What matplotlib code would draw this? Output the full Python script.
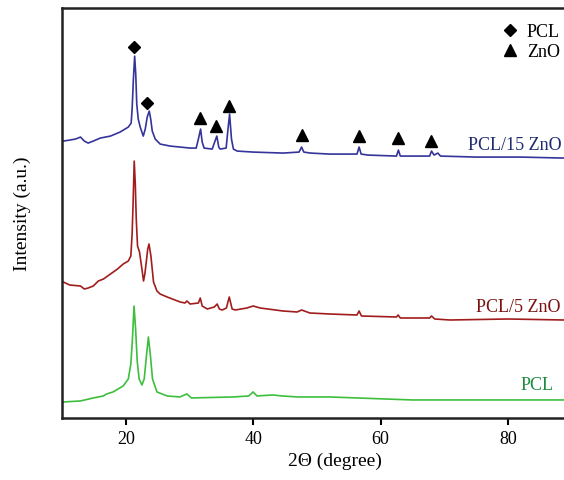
import matplotlib
matplotlib.use("Agg")
import matplotlib.pyplot as plt

# XRD patterns (2-theta in degrees, intensity in a.u.)
zno15_x = [10.2, 11.2, 12.1, 12.9, 13.5, 14.1, 14.9, 16.0, 17.6, 19.1, 20.4, 20.85,
           21.0, 21.2, 21.4, 21.57, 21.73, 21.96, 22.27, 22.75, 23.06, 23.37, 23.69,
           23.92, 24.16, 24.63, 25.41, 26.98, 30.12, 31.06, 31.4, 31.75, 32.0, 32.3,
           33.57, 33.9, 34.3, 34.6, 34.82, 35.76, 36.05, 36.3, 36.6, 36.9, 37.5, 40.0,
           44.7, 47.2, 47.6, 47.95, 49.0, 52.0, 56.3, 56.63, 56.95, 58.0, 62.5, 62.8,
           63.1, 67.7, 68.0, 68.4, 69.0, 69.4, 75.0, 82.0, 88.7]
zno15_y = [277, 278, 279, 281, 277, 275, 277, 280, 282, 286, 291, 295,
           309, 339, 362, 344, 314, 299, 291, 282, 289, 301, 307,
           299, 287, 279, 274, 272, 270, 270, 279, 289, 276, 270,
           269, 275, 282, 271, 269, 270, 289, 304, 279, 269, 267, 266,
           265, 266, 271, 266, 265, 264, 264, 271, 264, 263, 262, 268,
           262, 262, 267, 263, 265, 262, 261, 261, 260]

zno5_x = [10.2, 11.2, 12.9, 13.5, 14.1, 14.9, 15.7, 16.5, 17.6, 18.7, 19.6, 20.4,
          20.8, 21.0, 21.15, 21.33, 21.5, 21.65, 21.85, 22.16, 22.54, 22.79, 23.0,
          23.22, 23.45, 23.65, 23.95, 24.36, 24.9, 25.4, 26.5, 28.55, 29.3, 29.6,
          30.1, 31.4, 31.7, 32.0, 32.8, 33.9, 34.35, 34.7, 35.14, 35.8, 36.25, 36.7,
          37.2, 39.0, 40.0, 41.1, 44.7, 46.9, 47.6, 48.9, 52.0, 56.3, 56.63, 57.0,
          62.5, 62.75, 63.1, 67.7, 68.0, 68.5, 70.9, 80.0, 88.7]
zno5_y = [136, 133, 132, 129, 130, 132, 137, 139, 144, 149, 154, 157,
          162, 184, 214, 257, 234, 199, 172, 166, 149, 137, 144,
          156, 169, 174, 162, 136, 127, 124, 121, 116, 115, 117,
          114, 115, 120, 112, 109, 111, 114, 109, 108, 110, 121, 109,
          108, 110, 112, 110, 107, 106, 108, 105, 104, 103, 107, 102,
          101, 103, 100, 100, 102, 99, 98, 99, 98]

pcl_x = [10.2, 12.9, 14.9, 16.5, 17.0, 18.0, 19.6, 20.4, 20.8, 21.05, 21.3, 21.55,
         21.8, 22.1, 22.54, 22.9, 23.2, 23.55, 23.85, 24.2, 24.9, 26.5, 28.5, 29.6,
         30.3, 36.9, 39.3, 40.0, 40.6, 43.1, 44.5, 47.0, 52.0, 65.0, 88.7]
pcl_y = [16, 17, 20, 22, 24, 26, 32, 39, 54, 79, 112, 89,
         57, 39, 33, 39, 59, 81, 64, 39, 26, 22, 21, 24,
         20, 21, 22, 26, 22, 23, 22, 21, 21, 18, 18]

# peak assignment markers
pcl_peak_x = [21.33, 23.37]
pcl_peak_y = [371, 315]
zno_peak_x = [31.58, 34.2, 36.19, 47.64, 56.63, 62.7, 67.88]
zno_peak_y = [300, 292, 312, 283, 282, 280, 277]

plt.rcParams["font.family"] = ["Liberation Serif", "DejaVu Serif"]

fig = plt.figure(figsize=(5.64, 4.81), dpi=100)
# the axes runs past the right edge of the picture, as in the reference crop
ax = fig.add_axes([0.110, 0.129, 0.968, 0.852])

ax.plot(zno15_x, zno15_y, color="#34349a", lw=1.2)
ax.plot(zno5_x, zno5_y, color="#a11d1d", lw=1.2)
ax.plot(pcl_x, pcl_y, color="#3dbf3d", lw=1.2)

ax.plot(pcl_peak_x, pcl_peak_y, "D", color="black", ms=6, ls="none", label="PCL")
ax.plot(zno_peak_x, zno_peak_y, "^", color="black", ms=9, ls="none", label="ZnO")

ax.text(88.5, 274, "PCL/15 ZnO", color="#1f2c6e", fontsize=13, ha="right", va="center")
ax.text(88.2, 112, "PCL/5 ZnO", color="#7c1313", fontsize=13, ha="right", va="center")
ax.text(87.1, 33, "PCL", color="#1f8a3e", fontsize=13, ha="right", va="center")

ax.legend(loc="upper left", bbox_to_anchor=(0.785, 0.995), frameon=False, fontsize=13,
          handlelength=0.8, handletextpad=0.5, labelspacing=0.2, borderpad=0.2)

ax.set_xlim(10, 95.7)
ax.set_ylim(0, 410)
ax.set_xticks([20, 40, 60, 80])
ax.set_yticks([])
ax.tick_params(axis="x", direction="out", length=5, width=1.5, labelsize=13, pad=4)
ax.spines["right"].set_visible(False)
for s in ("left", "top", "bottom"):
    ax.spines[s].set_linewidth(1.8)
    ax.spines[s].set_color("#222222")

ax.set_xlabel("2\u0398 (degree)", fontsize=14, labelpad=3)
ax.set_ylabel("Intensity (a.u.)", fontsize=14, labelpad=22)

fig.savefig("out.png", dpi=100)
